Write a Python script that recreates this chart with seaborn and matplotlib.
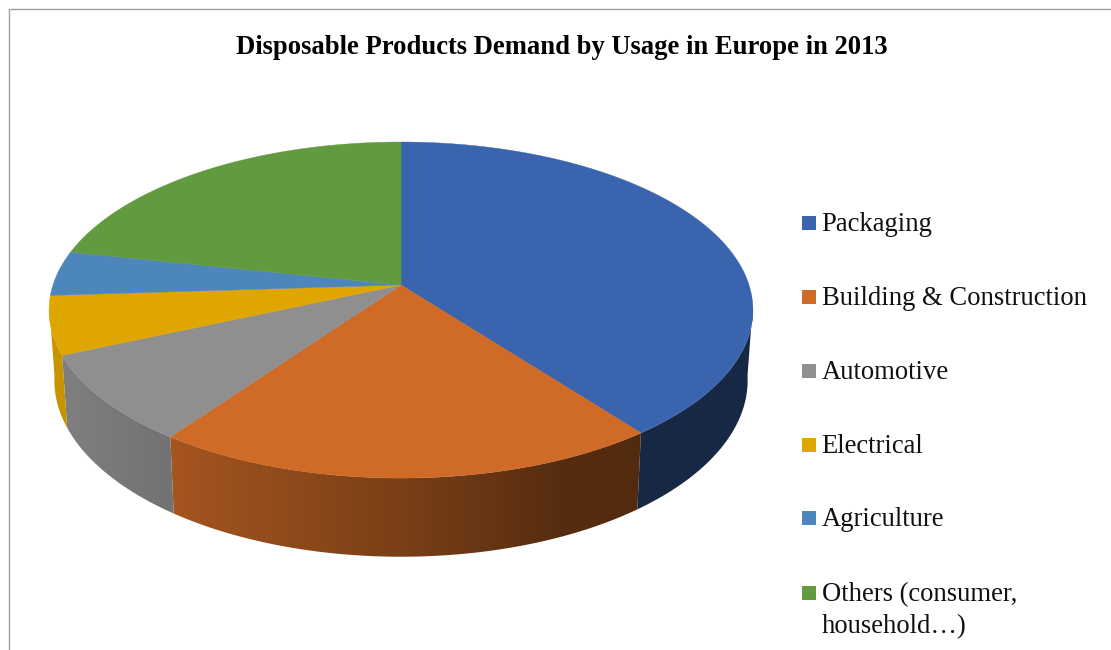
import numpy as np
import matplotlib
matplotlib.use("Agg")
import matplotlib.pyplot as plt
from matplotlib.colors import to_rgb
from matplotlib.patches import Polygon, Rectangle
import seaborn as sns

TITLE = "Disposable Products Demand by Usage in Europe in 2013"
categories = ["Packaging", "Building & Construction", "Automotive",
              "Electrical", "Agriculture", "Others (consumer,\nhousehold…)"]
shares = [39.6, 20.3, 8.5, 5.6, 4.3, 21.7]
slice_colors = ["#3a64ad", "#cf6b27", "#8f8f8f", "#e0a600", "#4c86bd", "#629a3f"]

sns.set_theme(style="white")
plt.rcParams["font.family"] = ["Liberation Serif", "DejaVu Serif"]
palette = sns.color_palette(slice_colors)

W, H = 1111, 650
fig = plt.figure(figsize=(W / 100, H / 100), dpi=100, facecolor="white")
ax = fig.add_axes([0, 0, 1, 1])

# Perspective model of the pie disc, in pixel units
CX, APEX_Y = 401.0, 285.0
RX, RY, PERSP = 348.0, 164.3, 0.149


def top_face(theta):
    """Map a clockwise angle from 12 o'clock onto the upper disc."""
    u, v = np.sin(theta), np.cos(theta)
    w = 1 + PERSP * v
    return CX + RX * u / w, APEX_Y - RY * v / w


def bottom_face(theta):
    """Map the same angle onto the lower rim of the disc."""
    u, v = np.sin(theta), np.cos(theta)
    w = 1 + PERSP * v
    return CX + 0.985 * RX * u / w, APEX_Y + 69 - 1.05 * RY * v / w


def wall_shade(x):
    """Lighting of the side wall: bright at the left, dark at the right."""
    return np.interp(x, [50, 170, 400, 560, 640, 753],
                     [0.90, 0.80, 0.59, 0.42, 0.40, 0.40])


edges = np.radians(np.concatenate([[0], np.cumsum(shares)]) * 3.6)
VISIBLE_FROM, VISIBLE_TO = np.radians(97), np.radians(263)

# Side walls first, each a horizontal colour ramp clipped to its outline
for i, col in enumerate(palette):
    lo = max(edges[i], VISIBLE_FROM)
    hi = min(edges[i + 1], VISIBLE_TO)
    if hi <= lo:
        continue
    ts = np.linspace(lo, hi, 200)
    tx, ty = top_face(ts)
    bx, by = bottom_face(ts)
    outline = np.column_stack([np.r_[tx, bx[::-1]], np.r_[ty, by[::-1]]])
    x0, x1 = outline[:, 0].min() - 2, outline[:, 0].max() + 2
    y0, y1 = outline[:, 1].min() - 2, outline[:, 1].max() + 2
    columns = np.arange(np.floor(x0), np.ceil(x1) + 1)
    ramp = wall_shade(columns)[None, :, None] * np.array(to_rgb(col))[None, None, :]
    img = ax.imshow(ramp, extent=[columns[0], columns[-1], y1, y0],
                    aspect="auto", interpolation="bilinear", zorder=1)
    clip = Polygon(outline, closed=True, transform=ax.transData,
                   facecolor="none", edgecolor="none")
    ax.add_patch(clip)
    img.set_clip_path(clip)

# Top faces of the slices
for i, col in enumerate(palette):
    ts = np.linspace(edges[i], edges[i + 1], 200)
    xs, ys = top_face(ts)
    pts = np.column_stack([np.r_[CX, xs], np.r_[APEX_Y, ys]])
    ax.add_patch(Polygon(pts, closed=True, facecolor=col, edgecolor=col, lw=0.3, zorder=2))

ax.text(562, 54, TITLE, ha="center", va="baseline",
        fontsize=19.2, fontweight="bold", color="black")

# Legend column
LEGEND_SIZE = 19.15
baselines = [230, 304, 378, 452, 525, 600]
for label, col, base in zip(categories, palette, baselines):
    ax.add_patch(Rectangle((802, base - 14), 14, 14, facecolor=col, edgecolor="none"))
    for n, line in enumerate(label.split("\n")):
        ax.text(821.5, base + 1 + 32 * n, line, ha="left", va="baseline",
                fontsize=LEGEND_SIZE, color="#111111")

# Thin frame, cropped at the right and bottom edges
ax.plot([8.5, 8.5, W], [H, 8.5, 8.5], color="#9e9e9e", lw=1.0, solid_joinstyle="miter")

ax.set_xlim(0, W)
ax.set_ylim(H, 0)
ax.axis("off")

fig.savefig("out.png", dpi=100, facecolor="white")
